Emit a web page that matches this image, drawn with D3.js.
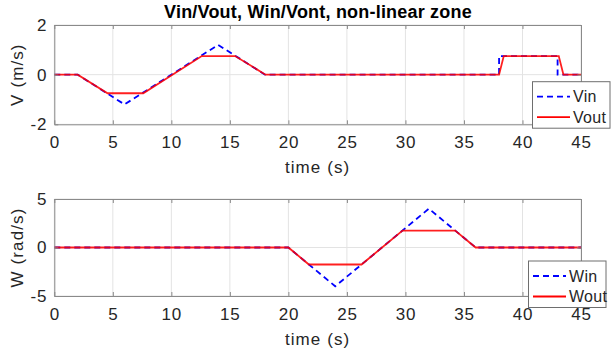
<!DOCTYPE html>
<html>
<head>
<meta charset="utf-8">
<script src="https://cdn.jsdelivr.net/npm/d3@7"></script>
<style>
  html, body { margin: 0; padding: 0; background: #fff; }
  svg { display: block; font-family: "Liberation Sans", Arial, sans-serif; }
</style>
</head>
<body>
<svg id="chart" width="611" height="356"></svg>
<script>
// Linear velocity: commanded (Vin) and saturated/rate-limited output (Vout)
const vInTime  = [0, 2, 6, 14, 18, 38, 38, 43, 43, 45];
const vInVal   = [0, 0, -1.2, 1.2, 0, 0, 0.75, 0.75, 0, 0];
const vOutTime = [0, 2, 4.55, 7.6, 12.6, 15.45, 18.05, 38, 38.4, 43.1, 43.5, 45];
const vOutVal  = [0, 0, -0.75, -0.75, 0.75, 0.75, 0, 0, 0.75, 0.75, 0, 0];

// Angular velocity: commanded (Win) and saturated output (Wout)
const wInTime  = [0, 20, 24, 32, 36, 45];
const wInVal   = [0, 0, -4, 4, 0, 0];
const wOutTime = [0, 20, 21.75, 26.25, 29.75, 34.25, 36, 45];
const wOutVal  = [0, 0, -1.75, -1.75, 1.75, 1.75, 0, 0];

const xTicks  = [0, 5, 10, 15, 20, 25, 30, 35, 40, 45];
const vTicks  = [-2, 0, 2];
const wTicks  = [-5, 0, 5];

const svg = d3.select("#chart");
const left = 54.3, right = 581;
const axisColor = "#8a8a8a";
const textColor = "#262626";
const fontFam = '"Liberation Sans", Arial, sans-serif';

const x = d3.scaleLinear().domain([0, 45]).range([left, right]);

function panel(opts) {
  const y = d3.scaleLinear().domain(opts.domain).range([opts.bottom, opts.top]);
  const g = svg.append("g");

  // grid
  g.append("g").selectAll("line").data(xTicks).join("line")
    .attr("x1", d => x(d)).attr("x2", d => x(d))
    .attr("y1", opts.top).attr("y2", opts.bottom)
    .attr("stroke", "#e3e3e3").attr("stroke-width", 1);
  g.append("g").selectAll("line").data(opts.ticks).join("line")
    .attr("x1", left).attr("x2", right)
    .attr("y1", d => y(d)).attr("y2", d => y(d))
    .attr("stroke", "#e3e3e3").attr("stroke-width", 1);

  // series: dashed command first, solid output on top
  const line = d3.line().x(d => x(d[0])).y(d => y(d[1]));
  const inPts = opts.inTime.map((t, i) => [t, opts.inVal[i]]);
  const outPts = opts.outTime.map((t, i) => [t, opts.outVal[i]]);
  g.append("path").datum(inPts).attr("d", line)
    .attr("fill", "none").attr("stroke", "#0000ff").attr("stroke-width", 1.8)
    .attr("stroke-dasharray", "6,4");
  g.append("path").datum(outPts).attr("d", line)
    .attr("fill", "none").attr("stroke", "#ff0000").attr("stroke-width", 1.8)
    .attr("opacity", 0.88);

  // axes: box with inward ticks on all four sides
  const xAxB = d3.axisBottom(x).tickValues(xTicks).tickSizeInner(-4).tickSizeOuter(0).tickPadding(12);
  const xAxT = d3.axisTop(x).tickValues(xTicks).tickSizeInner(-4).tickSizeOuter(0).tickFormat("");
  const yAxL = d3.axisLeft(y).tickValues(opts.ticks).tickSizeInner(-4).tickSizeOuter(0).tickPadding(7);
  const yAxR = d3.axisRight(y).tickValues(opts.ticks).tickSizeInner(-4).tickSizeOuter(0).tickFormat("");

  const gb = g.append("g").attr("transform", `translate(0,${opts.bottom})`).call(xAxB);
  const gt = g.append("g").attr("transform", `translate(0,${opts.top})`).call(xAxT);
  const gl = g.append("g").attr("transform", `translate(${left},0)`).call(yAxL);
  const gr = g.append("g").attr("transform", `translate(${right},0)`).call(yAxR);
  [gb, gt, gl, gr].forEach(a => {
    a.select(".domain").attr("stroke", axisColor).attr("stroke-width", 1);
    a.selectAll(".tick line").attr("stroke", axisColor);
    a.selectAll(".tick text").attr("fill", textColor).style("font-size", "17px")
      .style("letter-spacing", "0.8px").style("font-family", fontFam);
  });
  gl.selectAll(".tick text").text(d => d < 0 ? "-" + Math.abs(d) : d);

  // axis labels
  g.append("text").attr("x", (left + right) / 2).attr("y", opts.bottom + 49)
    .attr("text-anchor", "middle").attr("fill", textColor)
    .style("font-size", "17px").style("letter-spacing", "1.1px")
    .text("time (s)");
  g.append("text")
    .attr("transform", `translate(23,${(opts.top + opts.bottom) / 2}) rotate(-90)`)
    .attr("text-anchor", "middle").attr("fill", textColor)
    .style("font-size", "17px").style("letter-spacing", "1.1px")
    .text(opts.ylabel);

  // legend
  const lg = g.append("g").attr("transform", `translate(${opts.legX},${opts.legY})`);
  lg.append("rect").attr("x", 0).attr("y", 0).attr("width", 77.5).attr("height", 46.5)
    .attr("fill", "#fff").attr("stroke", "#6e6e6e").attr("stroke-width", 1);
  const items = [
    { name: opts.names[0], color: "#0000ff", dash: "6,4" },
    { name: opts.names[1], color: "#ff0000", dash: null }
  ];
  items.forEach((it, i) => {
    const yy = 15 + i * 20.5;
    lg.append("line").attr("x1", 4.5).attr("x2", 37.5).attr("y1", yy).attr("y2", yy)
      .attr("stroke", it.color).attr("stroke-width", 1.8)
      .attr("stroke-dasharray", it.dash);
    lg.append("text").attr("x", 40.5).attr("y", yy + 5.5).attr("fill", textColor)
      .style("font-size", "16px").style("letter-spacing", "0.3px").text(it.name);
  });
}

panel({
  top: 25, bottom: 124.3, domain: [-2, 2], ticks: vTicks,
  inTime: vInTime, inVal: vInVal, outTime: vOutTime, outVal: vOutVal,
  ylabel: "V (m/s)", names: ["Vin", "Vout"], legX: 532.5, legY: 81.7
});
panel({
  top: 199, bottom: 296, domain: [-5, 5], ticks: wTicks,
  inTime: wInTime, inVal: wInVal, outTime: wOutTime, outVal: wOutVal,
  ylabel: "W (rad/s)", names: ["Win", "Wout"], legX: 528.5, legY: 261
});

// title
svg.append("text").attr("x", 318).attr("y", 17.5).attr("text-anchor", "middle")
  .attr("fill", "#000").style("font-size", "18px").style("font-weight", "bold")
  .style("letter-spacing", "0.2px")
  .text("Vin/Vout, Win/Vont, non-linear zone");
</script>
</body>
</html>
